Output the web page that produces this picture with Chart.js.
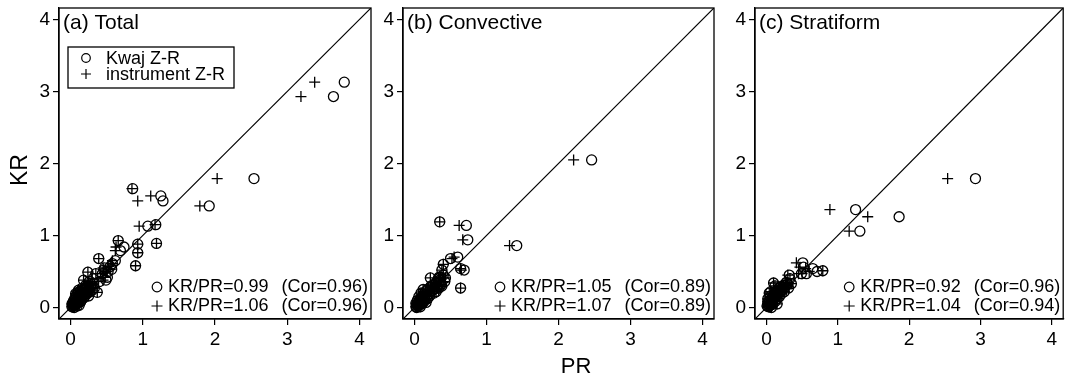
<!DOCTYPE html>
<html>
<head>
<meta charset="utf-8">
<title>KR vs PR</title>
<script src="https://cdn.jsdelivr.net/npm/chart.js@4/dist/chart.umd.min.js"></script>
<style>
  html, body { margin: 0; padding: 0; background: #fff; }
  #wrap { position: relative; width: 1070px; height: 383px; overflow: hidden; }
  #wrap canvas { position: absolute; left: 0; top: 0; }
</style>
</head>
<body>
<div id="wrap">
  <canvas id="panelA" width="1070" height="383"></canvas>
  <canvas id="panelB" width="1070" height="383"></canvas>
  <canvas id="panelC" width="1070" height="383"></canvas>
</div>
<script>
// ---- data: gauge rain (KR) against radar rain (PR) from two Z-R relations ----
const tickValues = [0, 1, 2, 3, 4];
const axisMin = -0.16, axisMax = 4.16;
const oneToOne = [-0.16, 4.16];

// (a) Total
const totalKR = [
  3.13, 2.93, 1.79, 1.41, 1.48, 1.55, 1.65, 1.13, 1.15, 0.89, 0.88, 0.76, 0.58, 0.93,
  0.84, 0.79, 0.68, 0.65, 0.61, 0.57, 0.53, 0.50, 0.55, 0.52, 0.49, 0.47, 0.42, 0.38,
  0.38, 0.33, 0.21, 0.30, 0.28,
  0.01, 0.03, 0.02, 0.06, 0.04, 0.08, 0.05, 0.11, 0.07, 0.14, 0.10, 0.17, 0.12, 0.20,
  0.15, 0.23, 0.13, 0.26, 0.18, 0.31, 0.21, 0.25, 0.16, 0.36, 0.28, 0.24, 0.13, 0.17,
  0.09, 0.21, 0.03, 0.00, 0.06, 0.02, 0.08, 0.27, 0.19, 0.24,
  0.05, 0.03, 0.12, 0.06, 0.09, 0.22, 0.10, 0.19, 0.15, 0.26, 0.19, 0.22, 0.32, 0.27,
  0.40, 0.36, 0.47
];
const totalPRKwaj = [
  3.79, 3.64, 2.54, 1.92, 1.28, 1.25, 0.86, 1.07, 1.18, 1.19, 0.93, 0.93, 0.90, 0.66,
  0.74, 0.69, 0.39, 0.62, 0.58, 0.55, 0.57, 0.52, 0.47, 0.46, 0.24, 0.35, 0.51, 0.49,
  0.18, 0.32, 0.37, 0.28, 0.22,
  0.02, 0.03, 0.04, 0.05, 0.06, 0.07, 0.08, 0.09, 0.10, 0.11, 0.12, 0.13, 0.14, 0.15,
  0.16, 0.17, 0.18, 0.19, 0.20, 0.21, 0.22, 0.24, 0.25, 0.26, 0.28, 0.30, 0.06, 0.08,
  0.04, 0.10, 0.12, 0.05, 0.03, 0.09, 0.14, 0.16, 0.07, 0.11,
  0.02, 0.05, 0.07, 0.09, 0.11, 0.13, 0.15, 0.17, 0.19, 0.21, 0.23, 0.27, 0.29, 0.33,
  0.31, 0.40, 0.44
];
const totalPRInstr = [
  3.38, 3.19, 2.03, 1.79, 0.93, 1.11, 0.85, 0.95, 1.17, 1.19, 0.93, 0.93, 0.90, 0.66,
  0.63, 0.62, 0.39, 0.58, 0.57, 0.53, 0.55, 0.50, 0.45, 0.46, 0.24, 0.35, 0.48, 0.45,
  0.18, 0.30, 0.37, 0.26, 0.20,
  0.02, 0.03, 0.04, 0.05, 0.06, 0.07, 0.08, 0.09, 0.10, 0.11, 0.12, 0.13, 0.14, 0.15,
  0.16, 0.16, 0.18, 0.19, 0.20, 0.20, 0.22, 0.23, 0.25, 0.25, 0.27, 0.29, 0.06, 0.08,
  0.04, 0.10, 0.12, 0.05, 0.03, 0.09, 0.14, 0.16, 0.07, 0.11,
  0.02, 0.05, 0.07, 0.09, 0.11, 0.13, 0.15, 0.17, 0.19, 0.21, 0.23, 0.26, 0.28, 0.32,
  0.30, 0.38, 0.42
];

// (b) Convective
const convKR = [
  2.05, 0.86, 1.19, 1.14, 0.94, 0.70, 0.68, 0.27, 0.52, 0.54, 0.60, 0.52, 0.41, 0.42,
  0.01, 0.04, 0.02, 0.07, 0.03, 0.10, 0.06, 0.13, 0.05, 0.16, 0.09, 0.19, 0.12, 0.22,
  0.15, 0.25, 0.19, 0.28, 0.23, 0.31, 0.26, 0.35, 0.29, 0.38, 0.32, 0.45, 0.36, 0.10,
  0.15, 0.20, 0.25, 0.00, 0.01, 0.07, 0.40, 0.22,
  0.06, 0.02, 0.05, 0.12, 0.08, 0.18, 0.12, 0.16, 0.30, 0.20, 0.33, 0.27, 0.42, 0.30,
  0.41
];
const convPRKwaj = [
  2.46, 1.42, 0.35, 0.72, 0.74, 0.60, 0.50, 0.64, 0.69, 0.64, 0.40, 0.38, 0.22, 0.34,
  0.02, 0.03, 0.04, 0.05, 0.06, 0.07, 0.08, 0.09, 0.10, 0.11, 0.12, 0.13, 0.14, 0.15,
  0.17, 0.18, 0.20, 0.22, 0.24, 0.26, 0.28, 0.30, 0.32, 0.35, 0.37, 0.40, 0.42, 0.04,
  0.06, 0.09, 0.12, 0.03, 0.08, 0.16, 0.33, 0.30,
  0.02, 0.05, 0.07, 0.10, 0.13, 0.15, 0.18, 0.21, 0.23, 0.27, 0.29, 0.34, 0.36, 0.38,
  0.43
];
const convPRInstr = [
  2.21, 1.32, 0.35, 0.62, 0.67, 0.55, 0.52, 0.64, 0.65, 0.64, 0.40, 0.38, 0.22, 0.34,
  0.02, 0.03, 0.04, 0.05, 0.06, 0.07, 0.08, 0.09, 0.10, 0.11, 0.12, 0.13, 0.14, 0.15,
  0.17, 0.18, 0.20, 0.22, 0.24, 0.26, 0.28, 0.30, 0.32, 0.35, 0.37, 0.40, 0.42, 0.04,
  0.06, 0.09, 0.12, 0.03, 0.08, 0.16, 0.33, 0.30,
  0.02, 0.05, 0.07, 0.10, 0.13, 0.15, 0.18, 0.21, 0.23, 0.27, 0.29, 0.34, 0.36, 0.38,
  0.43
];

// (c) Stratiform
const stratKR = [
  1.79, 1.36, 1.26, 1.06, 0.62, 0.54, 0.51, 0.47, 0.47, 0.50, 0.45, 0.56, 0.34,
  0.02, 0.05, 0.01, 0.08, 0.04, 0.11, 0.06, 0.14, 0.09, 0.17, 0.12, 0.20, 0.15, 0.23,
  0.18, 0.26, 0.21, 0.29, 0.24, 0.31, 0.28, 0.35, 0.32, 0.40, 0.12, 0.15, 0.00, 0.05,
  0.20,
  0.08, 0.02, 0.07, 0.04, 0.13, 0.08, 0.17, 0.12, 0.15, 0.19, 0.28, 0.22, 0.31, 0.27,
  0.33, 0.30, 0.22
];
const stratPRKwaj = [
  2.93, 1.25, 1.86, 1.31, 0.51, 0.65, 0.79, 0.49, 0.56, 0.71, 0.32, 0.52, 0.10,
  0.01, 0.02, 0.03, 0.04, 0.05, 0.06, 0.07, 0.08, 0.09, 0.10, 0.11, 0.12, 0.13, 0.14,
  0.16, 0.17, 0.19, 0.20, 0.22, 0.24, 0.26, 0.28, 0.30, 0.33, 0.02, 0.05, 0.07, 0.15,
  0.04,
  0.02, 0.04, 0.06, 0.08, 0.10, 0.12, 0.14, 0.15, 0.18, 0.21, 0.23, 0.25, 0.27, 0.31,
  0.35, 0.12, 0.06
];
const stratPRInstr = [
  2.54, 0.89, 1.42, 1.16, 0.42, 0.55, 0.79, 0.45, 0.50, 0.60, 0.30, 0.47, 0.10,
  0.01, 0.02, 0.03, 0.04, 0.05, 0.06, 0.07, 0.08, 0.09, 0.10, 0.11, 0.12, 0.13, 0.14,
  0.16, 0.17, 0.19, 0.20, 0.22, 0.24, 0.26, 0.28, 0.30, 0.33, 0.02, 0.05, 0.07, 0.15,
  0.04,
  0.02, 0.04, 0.06, 0.08, 0.10, 0.12, 0.14, 0.15, 0.18, 0.21, 0.23, 0.25, 0.27, 0.31,
  0.35, 0.12, 0.06
];

// ---- figure layout ----
const FONT = '"Liberation Sans", Arial, Helvetica, sans-serif';
const Y_AXIS_W = 40;
const X_AXIS_H = 40;
const CANVAS_W = 1070, CANVAS_H = 383;

function zipPoints(xs, ys) {
  return xs.map((x, i) => ({ x: x, y: ys[i] }));
}

function drawCircle(ctx, x, y, r) {
  ctx.beginPath();
  ctx.arc(x, y, r, 0, Math.PI * 2);
  ctx.stroke();
}
function drawPlus(ctx, x, y, r) {
  ctx.beginPath();
  ctx.moveTo(x - r, y); ctx.lineTo(x + r, y);
  ctx.moveTo(x, y - r); ctx.lineTo(x, y + r);
  ctx.stroke();
}

// frame, panel label, ratio notes, legend and shared axis titles
const panelDecor = {
  id: 'panelDecor',
  afterDraw(chart, args, o) {
    const { ctx, chartArea: a } = chart;
    ctx.save();
    ctx.strokeStyle = '#000';
    ctx.fillStyle = '#000';
    ctx.lineWidth = 1.3;
    ctx.strokeRect(a.left, a.top, a.right - a.left, a.bottom - a.top);

    ctx.textBaseline = 'middle';
    ctx.textAlign = 'left';
    ctx.font = '21px ' + FONT;
    ctx.fillText(o.label, a.left + 4, a.top + 15.5);

    // ratio and correlation notes
    ctx.font = '18px ' + FONT;
    ctx.lineWidth = 1.2;
    const rows = [
      { y: a.bottom - 32, sym: 'circle', ratio: o.kwajRatio, cor: o.kwajCor },
      { y: a.bottom - 13, sym: 'plus', ratio: o.instrRatio, cor: o.instrCor }
    ];
    rows.forEach(r => {
      if (r.sym === 'circle') drawCircle(ctx, a.right - 214, r.y, 4.8);
      else drawPlus(ctx, a.right - 214, r.y, 5.5);
      ctx.textAlign = 'left';
      ctx.fillText('KR/PR=' + r.ratio, a.right - 203, r.y);
      ctx.textAlign = 'right';
      ctx.fillText('(Cor=' + r.cor + ')', a.right - 3, r.y);
    });

    if (o.legend) {
      ctx.lineWidth = 1.3;
      ctx.strokeRect(a.left + 9, a.top + 39, 166, 41);
      ctx.lineWidth = 1.2;
      drawCircle(ctx, a.left + 27, a.top + 50, 4.3);
      drawPlus(ctx, a.left + 27, a.top + 66, 5);
      ctx.textAlign = 'left';
      ctx.font = '18px ' + FONT;
      ctx.fillText('Kwaj Z-R', a.left + 47, a.top + 51);
      ctx.fillText('instrument Z-R', a.left + 47, a.top + 67);
    }

    if (o.yTitle) {
      ctx.save();
      ctx.translate(21, 170);
      ctx.rotate(-Math.PI / 2);
      ctx.textAlign = 'center';
      ctx.font = '23px ' + FONT;
      ctx.fillText(o.yTitle, 0, 0);
      ctx.restore();
    }
    if (o.xTitle) {
      ctx.textAlign = 'center';
      ctx.font = '22px ' + FONT;
      ctx.fillText(o.xTitle, 576, 367);
    }
    ctx.restore();
  }
};

function axis(isY) {
  return {
    type: 'linear',
    min: axisMin,
    max: axisMax,
    afterBuildTicks: s => { s.ticks = tickValues.map(v => ({ value: v })); },
    afterFit: s => {
      if (isY) s.width = Y_AXIS_W; else s.height = X_AXIS_H;
      s.paddingTop = 0; s.paddingBottom = 0; s.paddingLeft = 0; s.paddingRight = 0;
    },
    ticks: {
      color: '#000',
      font: { family: FONT, size: 19 },
      padding: isY ? 3 : 3,
      autoSkip: false,
      maxRotation: 0,
      minRotation: 0,
      callback: v => String(v)
    },
    grid: {
      drawOnChartArea: false,
      drawTicks: true,
      tickLength: 6,
      color: '#000',
      lineWidth: 1.2
    },
    border: { display: true, color: '#000', width: 1.3 }
  };
}

function makePanel(id, box, prKwaj, prInstr, kr, decor) {
  new Chart(document.getElementById(id), {
    type: 'scatter',
    data: {
      datasets: [
        {
          type: 'line',
          data: zipPoints(oneToOne, oneToOne),
          borderColor: '#000',
          borderWidth: 1.2,
          pointRadius: 0,
          fill: false
        },
        {
          label: 'Kwaj Z-R',
          data: zipPoints(prKwaj, kr),
          pointStyle: 'circle',
          pointRadius: 5,
          borderColor: '#000',
          backgroundColor: 'rgba(0,0,0,0)',
          borderWidth: 1.3
        },
        {
          label: 'instrument Z-R',
          data: zipPoints(prInstr, kr),
          pointStyle: 'cross',
          pointRadius: 5.5,
          borderColor: '#000',
          backgroundColor: '#000',
          borderWidth: 1.3
        }
      ]
    },
    options: {
      responsive: false,
      animation: false,
      devicePixelRatio: 1,
      events: [],
      layout: {
        padding: {
          left: box.left - Y_AXIS_W,
          right: CANVAS_W - box.right,
          top: box.top,
          bottom: CANVAS_H - box.bottom - X_AXIS_H
        }
      },
      scales: { x: axis(false), y: axis(true) },
      plugins: {
        legend: { display: false },
        tooltip: { enabled: false },
        panelDecor: decor
      }
    },
    plugins: [panelDecor]
  });
}

makePanel('panelA', { left: 59, top: 8, right: 371, bottom: 319 },
  totalPRKwaj, totalPRInstr, totalKR,
  { label: '(a) Total', kwajRatio: '0.99', kwajCor: '0.96', instrRatio: '1.06', instrCor: '0.96',
    legend: true, yTitle: 'KR' });

makePanel('panelB', { left: 403, top: 8, right: 714, bottom: 319 },
  convPRKwaj, convPRInstr, convKR,
  { label: '(b) Convective', kwajRatio: '1.05', kwajCor: '0.89', instrRatio: '1.07', instrCor: '0.89',
    xTitle: 'PR' });

makePanel('panelC', { left: 755, top: 8, right: 1067, bottom: 319 },
  stratPRKwaj, stratPRInstr, stratKR,
  { label: '(c) Stratiform', kwajRatio: '0.92', kwajCor: '0.96', instrRatio: '1.04', instrCor: '0.94' });
</script>
</body>
</html>
